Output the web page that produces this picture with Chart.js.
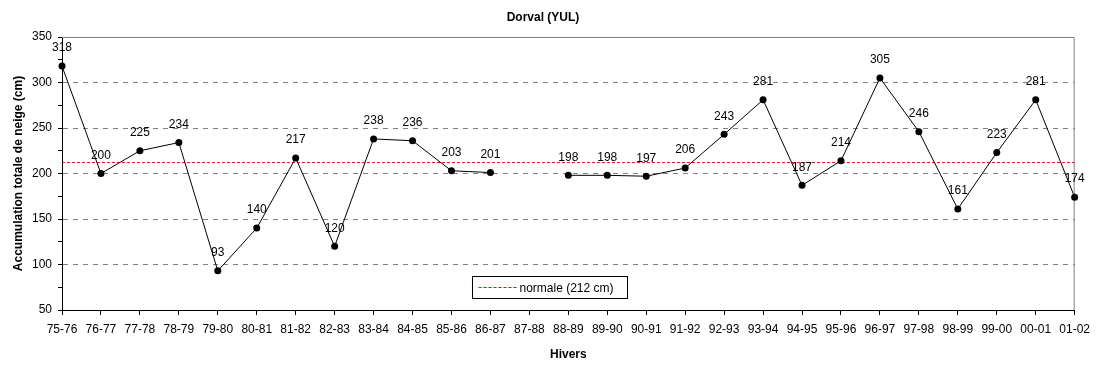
<!DOCTYPE html>
<html>
<head>
<meta charset="utf-8">
<script src="https://cdn.jsdelivr.net/npm/chart.js@4/dist/chart.umd.min.js"></script>
<style>
html,body{margin:0;padding:0;background:#fff;}
canvas{display:block;}
</style>
</head>
<body>
<canvas id="c" width="1097" height="372"></canvas>
<script>
const categories = ['75-76','76-77','77-78','78-79','79-80','80-81','81-82','82-83','83-84','84-85','85-86','86-87','87-88','88-89','89-90','90-91','91-92','92-93','93-94','94-95','95-96','96-97','97-98','98-99','99-00','00-01','01-02'];
const snowfall = [318,200,225,234,93,140,217,120,238,236,203,201,null,198,198,197,206,243,281,187,214,305,246,161,223,281,174];
const normalValue = 212;
const normalLabel = 'normale (212 cm)';
const chartTitle = 'Dorval (YUL)';
const yTitle = 'Accumulation totale de neige (cm)';
const xTitle = 'Hivers';

const FONT = '"Liberation Sans", Arial, sans-serif';

const valueLabels = {
  id: 'valueLabels',
  afterDatasetsDraw(chart) {
    const ctx = chart.ctx;
    const meta = chart.getDatasetMeta(0);
    ctx.save();
    ctx.font = '12px ' + FONT;
    ctx.fillStyle = '#000';
    ctx.textAlign = 'center';
    ctx.textBaseline = 'middle';
    meta.data.forEach((pt, i) => {
      const v = snowfall[i];
      if (v === null) return;
      ctx.fillText(String(v), pt.x, pt.y - 18);
    });
    ctx.restore();
  }
};

const frame = {
  id: 'frame',
  beforeDatasetsDraw(chart) {
    const {ctx, chartArea: a} = chart;
    ctx.save();
    ctx.strokeStyle = '#808080';
    ctx.lineWidth = 1;
    ctx.beginPath();
    ctx.moveTo(a.left, a.top + 0.5);
    ctx.lineTo(a.right - 0.5, a.top + 0.5);
    ctx.lineTo(a.right - 0.5, a.bottom);
    ctx.stroke();
    ctx.restore();
  }
};

const boxLegend = {
  id: 'boxLegend',
  afterDraw(chart) {
    const ctx = chart.ctx;
    const x = 472.5, y = 276.5, w = 155, h = 22;
    ctx.save();
    ctx.fillStyle = '#fff';
    ctx.fillRect(x, y, w, h);
    ctx.strokeStyle = '#000';
    ctx.lineWidth = 1;
    ctx.strokeRect(x, y, w, h);
    ctx.strokeStyle = '#ff0000';
    ctx.setLineDash([3, 2]);
    ctx.beginPath();
    ctx.moveTo(x + 6, y + h / 2);
    ctx.lineTo(x + 44, y + h / 2);
    ctx.stroke();
    ctx.setLineDash([]);
    ctx.font = '12px ' + FONT;
    ctx.fillStyle = '#000';
    ctx.textBaseline = 'middle';
    ctx.textAlign = 'left';
    ctx.fillText(normalLabel, x + 47, y + h / 2 + 1);
    ctx.restore();
  }
};

new Chart(document.getElementById('c'), {
  type: 'line',
  data: {
    labels: categories,
    datasets: [
      {
        label: 'Accumulation',
        data: snowfall,
        borderColor: '#000',
        borderWidth: 1,
        backgroundColor: '#000',
        pointBackgroundColor: '#000',
        pointBorderColor: '#000',
        pointRadius: 3.5,
        pointBorderWidth: 0,
        tension: 0,
        spanGaps: false,
        order: 1
      },
      {
        label: normalLabel,
        data: categories.map(() => normalValue),
        borderColor: '#ff0000',
        borderWidth: 1,
        borderDash: [3, 2],
        pointRadius: 0,
        tension: 0,
        order: 2
      }
    ]
  },
  options: {
    responsive: false,
    animation: false,
    devicePixelRatio: 1,
    layout: { padding: { top: 0, right: 22, left: 11, bottom: 0 } },
    plugins: {
      legend: { display: false },
      tooltip: { enabled: false },
      title: {
        display: true,
        text: chartTitle,
        color: '#000',
        font: { family: FONT, size: 12, weight: 'bold' },
        padding: { top: 10, bottom: 12.6 }
      }
    },
    scales: {
      x: {
        offset: false,
        grid: { display: true, drawOnChartArea: false, drawTicks: true, tickLength: 5, tickColor: '#000' },
        border: { display: true, color: '#000', width: 1 },
        ticks: { color: '#000', font: { family: FONT, size: 12 }, maxRotation: 0, minRotation: 0, autoSkip: false, padding: 7 },
        title: { display: true, text: xTitle, color: '#000', font: { family: FONT, size: 12, weight: 'bold' }, padding: { top: 4, bottom: 10 } },
        afterFit(scale) { scale.height = 62; }
      },
      y: {
        min: 50,
        max: 350,
        grid: {
          display: true,
          drawOnChartArea: true,
          drawTicks: true,
          tickLength: 4,
          tickColor: '#000',
          color: (c) => (c.tick && c.tick.value % 50 === 0 && c.tick.value !== 50 && c.tick.value !== 350) ? '#808080' : 'rgba(0,0,0,0)'
        },
        border: { display: true, color: '#000', width: 1, dash: [5, 5] },
        ticks: {
          stepSize: 25,
          color: '#000',
          font: { family: FONT, size: 12 },
          padding: 6,
          callback: (v) => (v % 50 === 0 ? String(v) : '')
        },
        title: { display: true, text: yTitle, color: '#000', font: { family: FONT, size: 12, weight: 'bold' }, padding: { top: 0, bottom: 4 } },
        afterFit(scale) { scale.width = 51; }
      }
    }
  },
  plugins: [frame, valueLabels, boxLegend]
});
</script>
</body>
</html>
